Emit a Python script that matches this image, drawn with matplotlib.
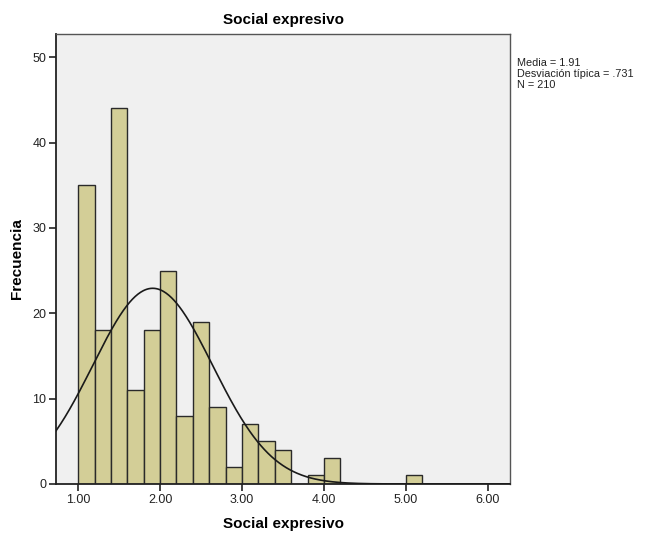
import numpy as np
import matplotlib
matplotlib.use("Agg")
import matplotlib.pyplot as plt

plt.rcParams['font.family'] = ['Liberation Sans', 'DejaVu Sans']

bin_edges = [1.0, 1.2, 1.4, 1.6, 1.8, 2.0, 2.2, 2.4, 2.6, 2.8, 3.0, 3.2, 3.4,
             3.6, 3.8, 4.0, 4.2, 4.4, 4.6, 4.8, 5.0, 5.2]
counts = [35, 18, 44, 11, 18, 25, 8, 19, 9, 2, 7, 5, 4, 0, 1, 3, 0, 0, 0, 0, 1]
mean = 1.91
sd = 0.731
n = 210
x_ticks = [1.0, 2.0, 3.0, 4.0, 5.0, 6.0]
y_ticks = [0, 10, 20, 30, 40, 50]

fig = plt.figure(figsize=(6.46, 5.41), dpi=100)
ax = fig.add_axes([0.0867, 0.1054, 0.7028, 0.8316])
ax.set_facecolor('#F0F0F0')

lefts = np.array(bin_edges[:-1])
widths = np.diff(bin_edges)
ax.bar(lefts, counts, width=widths, align='edge', color='#D3CE97',
       edgecolor='#2a2a2a', linewidth=1.0, zorder=2)

xs = np.linspace(0.73, 6.27, 500)
bw = 0.2
ys = n * bw * np.exp(-0.5 * ((xs - mean) / sd) ** 2) / (sd * np.sqrt(2 * np.pi))
ax.plot(xs, ys, color='#1a1a1a', lw=1.2, zorder=3)

ax.set_xlim(0.73, 6.27)
ax.set_ylim(0, 52.7)
ax.set_xticks(x_ticks)
ax.set_xticklabels([f"{v:.2f}" for v in x_ticks])
ax.set_yticks(y_ticks)
ax.tick_params(direction='out', length=5, width=1.2, labelsize=9,
               colors='#222222', pad=2)
for s in ['left', 'bottom']:
    ax.spines[s].set_color('#222222')
    ax.spines[s].set_linewidth(1.3)
for s in ['top', 'right']:
    ax.spines[s].set_color('#555555')
    ax.spines[s].set_linewidth(1.0)

ax.set_title('Social expresivo', fontsize=11, fontweight='bold', pad=7)
ax.set_xlabel('Social expresivo', fontsize=11, fontweight='bold', labelpad=8)
ax.set_ylabel('Frecuencia', fontsize=11, fontweight='bold', labelpad=6)

fig.text(517/646, 1 - 58/541,
         f"Media = {mean:.2f}\nDesviación típica = .{int(round(sd*1000))}\nN = {n}",
         fontsize=7.8, va='top', ha='left', linespacing=1.15, color='#222222')

fig.savefig('out.png', dpi=100)
